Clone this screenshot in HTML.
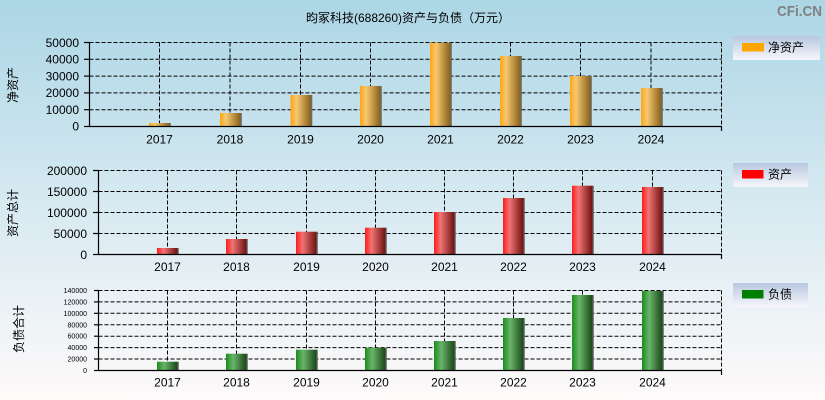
<!DOCTYPE html>
<html><head><meta charset="utf-8"><style>
html,body{margin:0;padding:0;}
body{width:825px;height:400px;overflow:hidden;background:linear-gradient(#acd6e6,#d6e9f1 50%,#fefafa);}
svg{display:block;font-family:"Liberation Sans","Noto Sans CJK SC",sans-serif;}
</style></head><body>
<svg width="825" height="400" viewBox="0 0 825 400" xmlns="http://www.w3.org/2000/svg">
<defs>
<linearGradient id="go" x1="0" x2="1" y1="0" y2="0"><stop offset="0" stop-color="#ffa514"/><stop offset="0.3" stop-color="#f6c870"/><stop offset="1" stop-color="#86601a"/></linearGradient>
<linearGradient id="gr" x1="0" x2="1" y1="0" y2="0"><stop offset="0" stop-color="#ff1c1c"/><stop offset="0.32" stop-color="#f07474"/><stop offset="1" stop-color="#6e1010"/></linearGradient>
<linearGradient id="gg" x1="0" x2="1" y1="0" y2="0"><stop offset="0" stop-color="#1a8c1a"/><stop offset="0.35" stop-color="#6ab46a"/><stop offset="1" stop-color="#184818"/></linearGradient>
<linearGradient id="lg" x1="0" x2="0" y1="0" y2="1"><stop offset="0" stop-color="#b8c8e0"/><stop offset="1" stop-color="#f6f6fa"/></linearGradient>
</defs>

<text x="408" y="22" font-size="12" text-anchor="middle" fill="#000">昀冢科技(688260)资产与负债（万元）</text>
<text x="777" y="16" font-size="15" font-weight="bold" fill="#808080" textLength="45" lengthAdjust="spacingAndGlyphs">CFi.CN</text>

<!-- Chart 1 -->
<g stroke="#000" stroke-width="1" stroke-dasharray="4,2" fill="none">
<line x1="89.5" y1="42.5" x2="721.5" y2="42.5"/>
<line x1="89.5" y1="59.3" x2="721.5" y2="59.3"/>
<line x1="89.5" y1="76.1" x2="721.5" y2="76.1"/>
<line x1="89.5" y1="92.9" x2="721.5" y2="92.9"/>
<line x1="89.5" y1="109.7" x2="721.5" y2="109.7"/>
<line x1="159.5" y1="42.5" x2="159.5" y2="126.5"/>
<line x1="230" y1="42.5" x2="230" y2="126.5"/>
<line x1="300.5" y1="42.5" x2="300.5" y2="126.5"/>
<line x1="370.5" y1="42.5" x2="370.5" y2="126.5"/>
<line x1="440.5" y1="42.5" x2="440.5" y2="126.5"/>
<line x1="510.5" y1="42.5" x2="510.5" y2="126.5"/>
<line x1="580.5" y1="42.5" x2="580.5" y2="126.5"/>
<line x1="651" y1="42.5" x2="651" y2="126.5"/>
<line x1="721.5" y1="42.5" x2="721.5" y2="126.5"/>
</g>
<g fill="url(#go)">
<rect x="149" y="123" width="20.5" height="3.5"/>
<rect x="220" y="113" width="20.5" height="13.5"/>
<rect x="290.5" y="95" width="20.5" height="31.5"/>
<rect x="360" y="86" width="20.5" height="40.5"/>
<rect x="430" y="42.7" width="20.5" height="83.8"/>
<rect x="500" y="56" width="20.5" height="70.5"/>
<rect x="570" y="76" width="20.5" height="50.5"/>
<rect x="641" y="88" width="20.5" height="38.5"/>
</g>
<g fill="#6a6a6a">
<rect x="169.5" y="123" width="1.3" height="3.5"/>
<rect x="240.5" y="113" width="1.3" height="13.5"/>
<rect x="311" y="95" width="1.3" height="31.5"/>
<rect x="380.5" y="86" width="1.3" height="40.5"/>
<rect x="450.5" y="42.7" width="1.3" height="83.8"/>
<rect x="520.5" y="56" width="1.3" height="70.5"/>
<rect x="590.5" y="76" width="1.3" height="50.5"/>
<rect x="661.5" y="88" width="1.3" height="38.5"/>
</g>
<g stroke="#000" stroke-width="1.2">
<line x1="89.5" y1="42" x2="89.5" y2="127"/>
<line x1="89" y1="126.5" x2="722" y2="126.5"/>
<line x1="721.5" y1="126.5" x2="721.5" y2="131"/>
<line x1="84" y1="42.5" x2="89.5" y2="42.5"/>
<line x1="84" y1="59.3" x2="89.5" y2="59.3"/>
<line x1="84" y1="76.1" x2="89.5" y2="76.1"/>
<line x1="84" y1="92.9" x2="89.5" y2="92.9"/>
<line x1="84" y1="109.7" x2="89.5" y2="109.7"/>
<line x1="84" y1="126.5" x2="89.5" y2="126.5"/>
</g>
<g font-size="12" fill="#000" text-anchor="end">
<text x="79" y="47">50000</text>
<text x="79" y="63.5">40000</text>
<text x="79" y="80.3">30000</text>
<text x="79" y="97.1">20000</text>
<text x="79" y="113.9">10000</text>
<text x="79" y="130.7">0</text>
</g>
<g font-size="12" fill="#000" text-anchor="middle">
<text x="159.5" y="143.5">2017</text><text x="230" y="143.5">2018</text><text x="300.5" y="143.5">2019</text><text x="370.5" y="143.5">2020</text>
<text x="440.5" y="143.5">2021</text><text x="510.5" y="143.5">2022</text><text x="580.5" y="143.5">2023</text><text x="651" y="143.5">2024</text>
</g>
<text transform="translate(17,85) rotate(-90)" font-size="12" text-anchor="middle" fill="#000">净资产</text>
<rect x="733" y="36" width="87" height="24" fill="url(#lg)"/>
<rect x="742" y="43" width="22" height="8.5" fill="#ffa500"/>
<text x="768" y="51.5" font-size="12" fill="#000">净资产</text>

<!-- Chart 2 -->
<g stroke="#000" stroke-width="1" stroke-dasharray="4,2" fill="none">
<line x1="98.5" y1="170.5" x2="721.5" y2="170.5"/>
<line x1="98.5" y1="191.5" x2="721.5" y2="191.5"/>
<line x1="98.5" y1="212.5" x2="721.5" y2="212.5"/>
<line x1="98.5" y1="233.5" x2="721.5" y2="233.5"/>
<line x1="167.5" y1="170.5" x2="167.5" y2="254.5"/>
<line x1="236.5" y1="170.5" x2="236.5" y2="254.5"/>
<line x1="306.5" y1="170.5" x2="306.5" y2="254.5"/>
<line x1="375.5" y1="170.5" x2="375.5" y2="254.5"/>
<line x1="444.5" y1="170.5" x2="444.5" y2="254.5"/>
<line x1="513.5" y1="170.5" x2="513.5" y2="254.5"/>
<line x1="582.5" y1="170.5" x2="582.5" y2="254.5"/>
<line x1="652.5" y1="170.5" x2="652.5" y2="254.5"/>
<line x1="721.5" y1="170.5" x2="721.5" y2="254.5"/>
</g>
<g fill="url(#gr)">
<rect x="157" y="248" width="20.5" height="6.5"/>
<rect x="226" y="239" width="20.5" height="15.5"/>
<rect x="296" y="231.7" width="20.5" height="22.8"/>
<rect x="365" y="227.7" width="20.5" height="26.8"/>
<rect x="434" y="212" width="20.5" height="42.5"/>
<rect x="503" y="198" width="20.5" height="56.5"/>
<rect x="572" y="185.7" width="20.5" height="68.8"/>
<rect x="642" y="187" width="20.5" height="67.5"/>
</g>
<g fill="#6a6a6a">
<rect x="177.5" y="248" width="1.3" height="6.5"/>
<rect x="246.5" y="239" width="1.3" height="15.5"/>
<rect x="316.5" y="231.7" width="1.3" height="22.8"/>
<rect x="385.5" y="227.7" width="1.3" height="26.8"/>
<rect x="454.5" y="212" width="1.3" height="42.5"/>
<rect x="523.5" y="198" width="1.3" height="56.5"/>
<rect x="592.5" y="185.7" width="1.3" height="68.8"/>
<rect x="662.5" y="187" width="1.3" height="67.5"/>
</g>
<g stroke="#000" stroke-width="1.2">
<line x1="98.5" y1="170" x2="98.5" y2="255"/>
<line x1="98" y1="254.5" x2="722" y2="254.5"/>
<line x1="721.5" y1="254.5" x2="721.5" y2="259"/>
<line x1="93" y1="170.5" x2="98.5" y2="170.5"/>
<line x1="93" y1="191.5" x2="98.5" y2="191.5"/>
<line x1="93" y1="212.5" x2="98.5" y2="212.5"/>
<line x1="93" y1="233.5" x2="98.5" y2="233.5"/>
<line x1="93" y1="254.5" x2="98.5" y2="254.5"/>
</g>
<g font-size="12" fill="#000" text-anchor="end">
<text x="87" y="175">200000</text>
<text x="87" y="196">150000</text>
<text x="87" y="217">100000</text>
<text x="87" y="238">50000</text>
<text x="87" y="259">0</text>
</g>
<g font-size="12" fill="#000" text-anchor="middle">
<text x="167.5" y="271">2017</text><text x="236.5" y="271">2018</text><text x="306.5" y="271">2019</text><text x="375.5" y="271">2020</text>
<text x="444.5" y="271">2021</text><text x="513.5" y="271">2022</text><text x="582.5" y="271">2023</text><text x="652.5" y="271">2024</text>
</g>
<text transform="translate(17,213) rotate(-90)" font-size="12" text-anchor="middle" fill="#000">资产总计</text>
<rect x="733" y="163" width="75" height="24" fill="url(#lg)"/>
<rect x="742" y="170" width="21.5" height="8.5" fill="#ff0000"/>
<text x="768" y="178.5" font-size="12" fill="#000">资产</text>

<!-- Chart 3 -->
<g stroke="#000" stroke-width="1" stroke-dasharray="4,2" fill="none">
<line x1="98.5" y1="290.5" x2="721.5" y2="290.5"/>
<line x1="98.5" y1="301.9" x2="721.5" y2="301.9"/>
<line x1="98.5" y1="313.3" x2="721.5" y2="313.3"/>
<line x1="98.5" y1="324.8" x2="721.5" y2="324.8"/>
<line x1="98.5" y1="336.2" x2="721.5" y2="336.2"/>
<line x1="98.5" y1="347.6" x2="721.5" y2="347.6"/>
<line x1="98.5" y1="359" x2="721.5" y2="359"/>
<line x1="167.5" y1="290.5" x2="167.5" y2="370.5"/>
<line x1="236.5" y1="290.5" x2="236.5" y2="370.5"/>
<line x1="306.5" y1="290.5" x2="306.5" y2="370.5"/>
<line x1="375.5" y1="290.5" x2="375.5" y2="370.5"/>
<line x1="444.5" y1="290.5" x2="444.5" y2="370.5"/>
<line x1="513.5" y1="290.5" x2="513.5" y2="370.5"/>
<line x1="582.5" y1="290.5" x2="582.5" y2="370.5"/>
<line x1="652.5" y1="290.5" x2="652.5" y2="370.5"/>
<line x1="721.5" y1="290.5" x2="721.5" y2="370.5"/>
</g>
<g fill="url(#gg)">
<rect x="157" y="361.7" width="20.5" height="8.8"/>
<rect x="226" y="353.7" width="20.5" height="16.8"/>
<rect x="296" y="349.7" width="20.5" height="20.8"/>
<rect x="365" y="347.7" width="20.5" height="22.8"/>
<rect x="434" y="341" width="20.5" height="29.5"/>
<rect x="503" y="318" width="20.5" height="52.5"/>
<rect x="572" y="295" width="20.5" height="75.5"/>
<rect x="642" y="291" width="20.5" height="79.5"/>
</g>
<g fill="#6a6a6a">
<rect x="177.5" y="361.7" width="1.3" height="8.8"/>
<rect x="246.5" y="353.7" width="1.3" height="16.8"/>
<rect x="316.5" y="349.7" width="1.3" height="20.8"/>
<rect x="385.5" y="347.7" width="1.3" height="22.8"/>
<rect x="454.5" y="341" width="1.3" height="29.5"/>
<rect x="523.5" y="318" width="1.3" height="52.5"/>
<rect x="592.5" y="295" width="1.3" height="75.5"/>
<rect x="662.5" y="291" width="1.3" height="79.5"/>
</g>
<g stroke="#000" stroke-width="1.2">
<line x1="98.5" y1="290" x2="98.5" y2="371"/>
<line x1="98" y1="370.5" x2="722" y2="370.5"/>
<line x1="721.5" y1="370.5" x2="721.5" y2="375"/>
<line x1="94" y1="290.5" x2="98.5" y2="290.5"/>
<line x1="94" y1="301.9" x2="98.5" y2="301.9"/>
<line x1="94" y1="313.3" x2="98.5" y2="313.3"/>
<line x1="94" y1="324.8" x2="98.5" y2="324.8"/>
<line x1="94" y1="336.2" x2="98.5" y2="336.2"/>
<line x1="94" y1="347.6" x2="98.5" y2="347.6"/>
<line x1="94" y1="359" x2="98.5" y2="359"/>
<line x1="94" y1="370.5" x2="98.5" y2="370.5"/>
</g>
<g font-size="7" fill="#000" text-anchor="end">
<text x="87" y="293">140000</text>
<text x="87" y="304.4">120000</text>
<text x="87" y="315.8">100000</text>
<text x="87" y="327.3">80000</text>
<text x="87" y="338.7">60000</text>
<text x="87" y="350.1">40000</text>
<text x="87" y="361.5">20000</text>
<text x="87" y="373">0</text>
</g>
<g font-size="12" fill="#000" text-anchor="middle">
<text x="167.5" y="386.5">2017</text><text x="236.5" y="386.5">2018</text><text x="306.5" y="386.5">2019</text><text x="375.5" y="386.5">2020</text>
<text x="444.5" y="386.5">2021</text><text x="513.5" y="386.5">2022</text><text x="582.5" y="386.5">2023</text><text x="652.5" y="386.5">2024</text>
</g>
<text transform="translate(23,329) rotate(-90)" font-size="12" text-anchor="middle" fill="#000">负债合计</text>
<rect x="733" y="283" width="75" height="24" fill="url(#lg)"/>
<rect x="742" y="290" width="21.5" height="8.5" fill="#008000"/>
<text x="768" y="298.5" font-size="12" fill="#000">负债</text>
</svg>
</body></html>
